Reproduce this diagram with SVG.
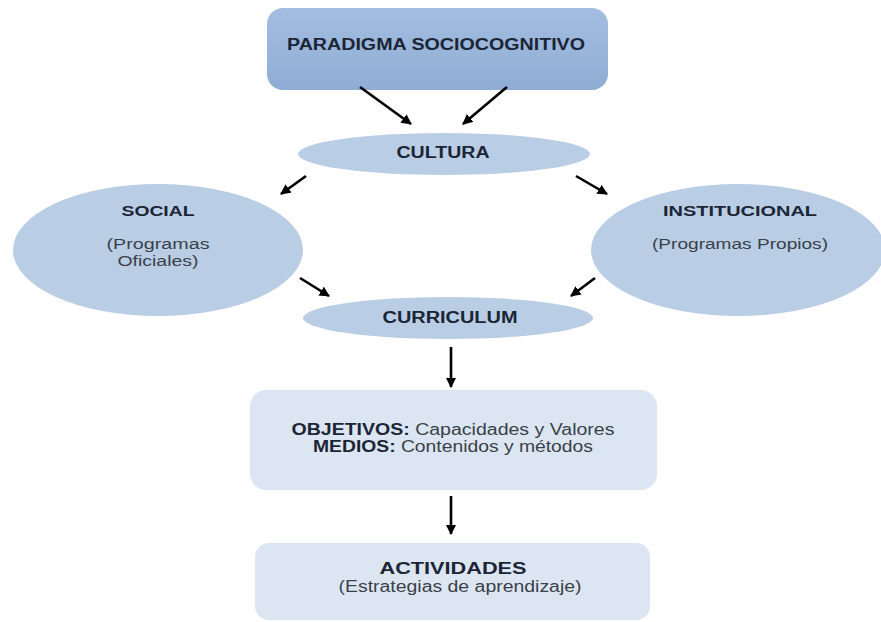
<svg xmlns="http://www.w3.org/2000/svg" width="881" height="622" viewBox="0 0 881 622">
<defs>
<marker id="ah" viewBox="0 0 10 10" refX="9" refY="5" markerWidth="4" markerHeight="4" orient="auto" markerUnits="strokeWidth">
<path d="M0,0 L10,5 L0,10 z" fill="#000"/>
</marker>
<linearGradient id="topg" x1="0" y1="0" x2="0" y2="1">
<stop offset="0" stop-color="#a3bde0"/>
<stop offset="1" stop-color="#8fadd4"/>
</linearGradient>
<style>
.b{font-family:"Liberation Sans",Arial,sans-serif;font-weight:bold;fill:#1b2535;text-anchor:middle}
.r{font-family:"Liberation Sans",Arial,sans-serif;fill:#3a3f48;text-anchor:middle}
.ell{fill:#b9cde5}
.box{fill:#dce6f2}
.c{stroke:#000;stroke-width:2.6;fill:none;marker-end:url(#ah)}
</style>
</defs>
<rect width="881" height="622" fill="#fff"/>
<g id="paradigma">
<rect x="267" y="8" width="341" height="82" rx="16" fill="url(#topg)"/>
<text class="b" x="436" y="50" font-size="16" textLength="298" lengthAdjust="spacingAndGlyphs">PARADIGMA SOCIOCOGNITIVO</text>
</g>
<g id="cultura">
<ellipse class="ell" cx="444" cy="154" rx="146" ry="21"/>
<text class="b" x="443" y="158" font-size="16" textLength="93" lengthAdjust="spacingAndGlyphs">CULTURA</text>
</g>
<g id="social">
<ellipse class="ell" cx="158" cy="250" rx="145" ry="66"/>
<text class="b" x="158" y="216" font-size="14" textLength="73" lengthAdjust="spacingAndGlyphs">SOCIAL</text>
<text class="r" x="158" y="249" font-size="14" textLength="103" lengthAdjust="spacingAndGlyphs">(Programas</text>
<text class="r" x="158" y="266" font-size="14" textLength="81" lengthAdjust="spacingAndGlyphs">Oficiales)</text>
</g>
<g id="institucional">
<ellipse class="ell" cx="738" cy="250" rx="147" ry="66"/>
<text class="b" x="740" y="216" font-size="14" textLength="154" lengthAdjust="spacingAndGlyphs">INSTITUCIONAL</text>
<text class="r" x="740" y="249" font-size="14" textLength="176" lengthAdjust="spacingAndGlyphs">(Programas Propios)</text>
</g>
<g id="curriculum">
<ellipse class="ell" cx="448" cy="318" rx="145" ry="21"/>
<text class="b" x="450" y="323" font-size="16" textLength="135" lengthAdjust="spacingAndGlyphs">CURRICULUM</text>
</g>
<g id="objetivos">
<rect class="box" x="250" y="390" width="407" height="100" rx="16"/>
<text class="r" x="453" y="435" font-size="16" textLength="323" lengthAdjust="spacingAndGlyphs"><tspan class="b" style="font-weight:bold;fill:#1b2535">OBJETIVOS:</tspan> Capacidades y Valores</text>
<text class="r" x="453" y="452" font-size="16" textLength="280" lengthAdjust="spacingAndGlyphs"><tspan style="font-weight:bold;fill:#1b2535">MEDIOS:</tspan> Contenidos y métodos</text>
</g>
<g id="actividades">
<rect class="box" x="255" y="543" width="395" height="77" rx="14"/>
<text class="b" x="453" y="574" font-size="16" textLength="147" lengthAdjust="spacingAndGlyphs">ACTIVIDADES</text>
<text class="r" x="460" y="592" font-size="16" textLength="243" lengthAdjust="spacingAndGlyphs">(Estrategias de aprendizaje)</text>
</g>
<g id="connectors">
<line class="c" x1="360" y1="87" x2="411" y2="124"/>
<line class="c" x1="507" y1="87" x2="463" y2="124"/>
<line class="c" x1="306" y1="176" x2="281" y2="194"/>
<line class="c" x1="576" y1="176" x2="607" y2="194"/>
<line class="c" x1="300" y1="278" x2="329" y2="296"/>
<line class="c" x1="595" y1="278" x2="571" y2="296"/>
<line class="c" x1="451" y1="347" x2="451" y2="387"/>
<line class="c" x1="451" y1="496" x2="451" y2="534"/>
</g>
</svg>
